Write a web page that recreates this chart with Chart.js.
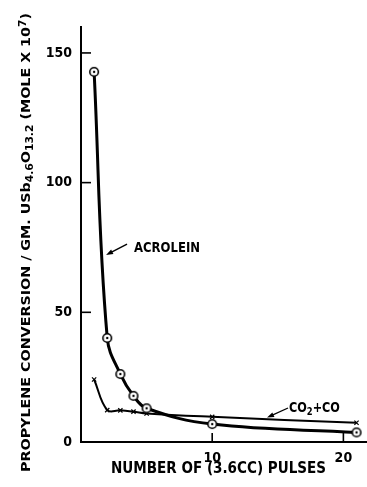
<!DOCTYPE html>
<html>
<head>
<meta charset="utf-8">
<script src="https://cdn.jsdelivr.net/npm/chart.js@4"></script>
<style>
  html, body { margin: 0; padding: 0; background: #fff; }
  canvas { display: block; }
</style>
</head>
<body>
<canvas id="pulses" width="367" height="487"></canvas>
<script>
// pulse number for each measurement
const pulses = [1, 2, 3, 4, 5, 10, 21];
// propylene converted per gram of catalyst, mole x 10^7
const acrolein = [142.7, 40.1, 26.2, 17.8, 13.0, 6.9, 3.7];
const co2co = [24.1, 12.3, 12.2, 11.7, 11.0, 9.7, 7.4];
const yTicks = [0, 50, 100, 150];
const xTicks = [10, 20];

const FAMILY = '"DejaVu Sans Condensed", "DejaVu Sans", sans-serif';

// open circle with a dot in the middle
function ringDot() {
  const c = document.createElement('canvas');
  c.width = 12; c.height = 12;
  const g = c.getContext('2d');
  g.beginPath();
  g.arc(6, 6, 4.3, 0, Math.PI * 2);
  g.fillStyle = '#fff';
  g.fill();
  g.lineWidth = 1.6;
  g.strokeStyle = '#000';
  g.stroke();
  g.beginPath();
  g.arc(6, 6, 1.2, 0, Math.PI * 2);
  g.fillStyle = '#000';
  g.fill();
  return c;
}

// runs: [text, shift] with shift 0 normal, 1 subscript, -1 superscript
// squeezed/stretched horizontally to the given width
function drawRuns(ctx, runs, size, width) {
  const small = size * 0.75;
  let total = 0;
  const widths = runs.map(r => {
    ctx.font = 'bold ' + (r[1] ? small : size) + 'px ' + FAMILY;
    const w = ctx.measureText(r[0]).width;
    total += w;
    return w;
  });
  ctx.scale(width / total, 1);
  let x = 0;
  runs.forEach((r, i) => {
    ctx.font = 'bold ' + (r[1] ? small : size) + 'px ' + FAMILY;
    const dy = r[1] === 1 ? size * 0.22 : (r[1] === -1 ? -size * 0.3 : 0);
    ctx.fillText(r[0], x, dy);
    x += widths[i];
  });
}

function arrow(ctx, x1, y1, x2, y2) {
  const a = Math.atan2(y2 - y1, x2 - x1);
  ctx.beginPath();
  ctx.moveTo(x1, y1);
  ctx.lineTo(x2 - Math.cos(a) * 4, y2 - Math.sin(a) * 4);
  ctx.lineWidth = 1.3;
  ctx.stroke();
  ctx.beginPath();
  ctx.moveTo(x2, y2);
  ctx.lineTo(x2 - Math.cos(a) * 7 - Math.sin(a) * 2.5, y2 - Math.sin(a) * 7 + Math.cos(a) * 2.5);
  ctx.lineTo(x2 - Math.cos(a) * 7 + Math.sin(a) * 2.5, y2 - Math.sin(a) * 7 - Math.cos(a) * 2.5);
  ctx.closePath();
  ctx.fill();
}

// inward tick marks, axis titles and the curve labels
const decorations = {
  id: 'decorations',
  afterDraw(chart) {
    const ctx = chart.ctx;
    const xs = chart.scales.x, ys = chart.scales.y;
    const area = chart.chartArea;
    ctx.save();
    ctx.strokeStyle = '#000';
    ctx.fillStyle = '#000';
    ctx.lineWidth = 1.6;
    yTicks.slice(1).forEach(v => {
      const py = ys.getPixelForValue(v);
      ctx.beginPath();
      ctx.moveTo(area.left, py);
      ctx.lineTo(area.left + 10, py);
      ctx.stroke();
    });
    xTicks.forEach(v => {
      const px = xs.getPixelForValue(v);
      ctx.beginPath();
      ctx.moveTo(px, area.bottom);
      ctx.lineTo(px, area.bottom - 9);
      ctx.stroke();
    });

    ctx.textBaseline = 'alphabetic';
    ctx.textAlign = 'left';

    // y title, reading bottom to top
    ctx.save();
    ctx.translate(30, 472);
    ctx.rotate(-Math.PI / 2);
    drawRuns(ctx, [
      ['PROPYLENE CONVERSION / GM. USb', 0], ['4.6', 1], ['O', 0], ['13.2', 1],
      [' (MOLE X 10', 0], ['7', -1], [')', 0]
    ], 13, 459);
    ctx.restore();

    // x title
    ctx.save();
    ctx.translate(111, 473);
    drawRuns(ctx, [['NUMBER OF (3.6CC) PULSES', 0]], 15, 215);
    ctx.restore();

    // ACROLEIN label
    ctx.save();
    ctx.translate(xs.getPixelForValue(4.04), ys.getPixelForValue(73.2));
    drawRuns(ctx, [['ACROLEIN', 0]], 14, 66);
    ctx.restore();
    arrow(ctx, xs.getPixelForValue(3.51), ys.getPixelForValue(76.3),
      xs.getPixelForValue(1.91), ys.getPixelForValue(72.1));

    // CO2+CO label
    ctx.save();
    ctx.translate(xs.getPixelForValue(15.85), ys.getPixelForValue(11.6));
    drawRuns(ctx, [['CO', 0], ['2', 1], ['+CO', 0]], 14, 51);
    ctx.restore();
    arrow(ctx, xs.getPixelForValue(15.78), ys.getPixelForValue(13.1),
      xs.getPixelForValue(14.18), ys.getPixelForValue(9.4));

    ctx.restore();
  }
};

const toPoints = (ys) => pulses.map((p, i) => ({ x: p, y: ys[i] }));

new Chart(document.getElementById('pulses'), {
  type: 'line',
  data: {
    datasets: [{
      label: 'ACROLEIN',
      data: toPoints(acrolein),
      borderColor: '#000',
      borderWidth: 3,
      tension: 0.4,
      pointStyle: ringDot(),
      pointRadius: 5
    }, {
      label: 'CO2+CO',
      data: toPoints(co2co),
      borderColor: '#000',
      borderWidth: 2,
      tension: 0.4,
      pointStyle: 'crossRot',
      pointRadius: 3,
      pointBorderWidth: 1.2,
      pointBackgroundColor: '#000'
    }]
  },
  options: {
    responsive: false,
    animation: false,
    layout: {
      autoPadding: false,
      padding: { top: 27, left: 0, right: 0, bottom: 0 }
    },
    plugins: {
      legend: { display: false },
      tooltip: { enabled: false }
    },
    scales: {
      x: {
        type: 'linear',
        min: 0,
        max: 21.8,
        afterFit: (s) => { s.height = 45; },
        afterBuildTicks: (s) => { s.ticks = xTicks.map(v => ({ value: v })); },
        grid: { display: false, drawTicks: false },
        border: { display: true, color: '#000', width: 2 },
        ticks: {
          padding: 8,
          color: '#000',
          font: { family: FAMILY, size: 14, weight: 'bold' }
        }
      },
      y: {
        min: 0,
        max: 160,
        afterFit: (s) => { s.width = 81; },
        afterBuildTicks: (s) => { s.ticks = yTicks.map(v => ({ value: v })); },
        grid: { display: false, drawTicks: false },
        border: { display: true, color: '#000', width: 2 },
        ticks: {
          padding: 9,
          color: '#000',
          font: { family: FAMILY, size: 14, weight: 'bold' }
        }
      }
    }
  },
  plugins: [decorations]
});
</script>
</body>
</html>
